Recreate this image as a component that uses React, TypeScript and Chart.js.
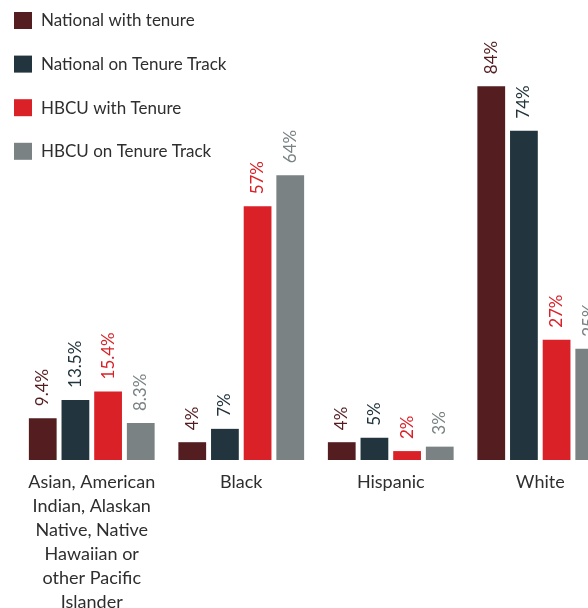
import React, { useEffect, useRef } from "react";
import { Chart, registerables } from "chart.js";

Chart.register(...registerables);

const categories: (string | string[])[] = [
  ["Asian, American", "Indian, Alaskan", "Native, Native", "Hawaiian or", "other Pacific", "Islander"],
  "Black",
  "Hispanic",
  "White",
];

const seriesNames = [
  "National with tenure",
  "National on Tenure Track",
  "HBCU with Tenure",
  "HBCU on Tenure Track",
];

const nationalWithTenure = [9.4, 4, 4, 84];
const nationalOnTenureTrack = [13.5, 7, 5, 74];
const hbcuWithTenure = [15.4, 57, 2, 27];
const hbcuOnTenureTrack = [8.3, 64, 3, 25];

const seriesColors = ["#541e21", "#22343d", "#da2128", "#7a8283"];

const FONT = "Lato, 'Noto Sans', sans-serif";

const valueLabelPlugin = {
  id: "valueLabels",
  afterDatasetsDraw(chart: any) {
    const ctx = chart.ctx;
    chart.data.datasets.forEach((ds: any, di: number) => {
      const meta = chart.getDatasetMeta(di);
      meta.data.forEach((bar: any, i: number) => {
        const v = ds.data[i];
        ctx.save();
        ctx.translate(bar.x, bar.y - 12);
        ctx.rotate(-Math.PI / 2);
        ctx.font = `17px ${FONT}`;
        ctx.fillStyle = ds.backgroundColor;
        ctx.textAlign = "left";
        ctx.textBaseline = "middle";
        ctx.fillText(`${v}%`, 0, 0);
        ctx.restore();
      });
    });
  },
};

const legendPlugin = {
  id: "sideLegend",
  afterDraw(chart: any) {
    const ctx = chart.ctx;
    chart.data.datasets.forEach((ds: any, di: number) => {
      const top = 12 + di * 43.6;
      ctx.save();
      ctx.fillStyle = ds.backgroundColor;
      ctx.fillRect(14, top, 18, 17);
      ctx.font = `17px ${FONT}`;
      ctx.fillStyle = "#2e2e2e";
      ctx.textAlign = "left";
      ctx.textBaseline = "middle";
      ctx.fillText(ds.label, 41, top + 9);
      ctx.restore();
    });
  },
};

export default function App() {
  const ref = useRef<HTMLCanvasElement | null>(null);

  useEffect(() => {
    if (!ref.current) return;
    const seriesData = [nationalWithTenure, nationalOnTenureTrack, hbcuWithTenure, hbcuOnTenureTrack];
    const chart = new Chart(ref.current, {
      type: "bar",
      data: {
        labels: categories,
        datasets: seriesNames.map((name, i) => ({
          label: name,
          data: seriesData[i],
          backgroundColor: seriesColors[i],
          borderWidth: 0,
          barPercentage: 0.85,
          categoryPercentage: 0.874,
        })),
      },
      options: {
        animation: false,
        responsive: true,
        maintainAspectRatio: false,
        layout: { padding: { left: 17, right: 15, top: 15, bottom: 0 } },
        plugins: {
          legend: { display: false },
          tooltip: { enabled: false },
        },
        scales: {
          x: {
            grid: { display: false, drawTicks: false },
            border: { display: false },
            ticks: {
              autoSkip: false,
              maxRotation: 0,
              minRotation: 0,
              padding: 10,
              color: "#2e2e2e",
              font: { family: FONT, size: 18, lineHeight: "24px" },
            },
          },
          y: {
            display: false,
            min: 0,
            max: 100,
          },
        },
      },
      plugins: [valueLabelPlugin, legendPlugin],
    });
    return () => chart.destroy();
  }, []);

  return (
    <div style={{ position: "absolute", left: 0, top: 0, width: 588, height: 608, overflow: "hidden", background: "#fff" }}>
      <div style={{ position: "relative", width: 630, height: 624 }}>
        <canvas ref={ref} />
      </div>
    </div>
  );
}
